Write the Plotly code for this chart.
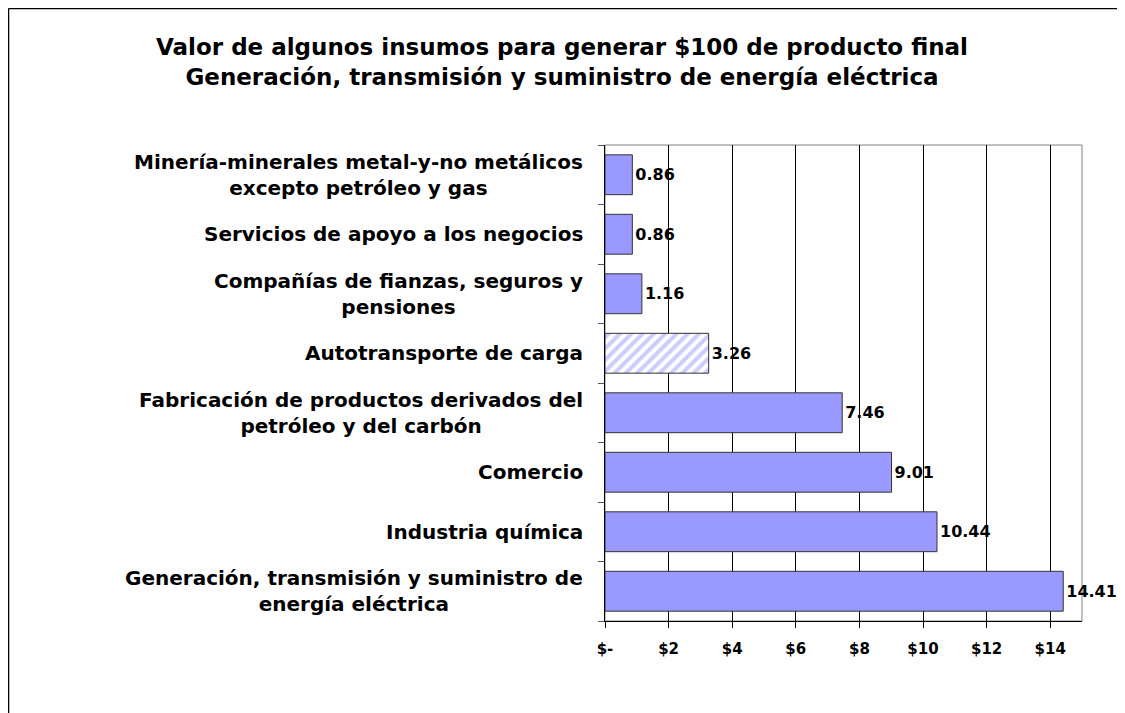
import plotly.graph_objects as go

# datos (de abajo hacia arriba)
categorias = [
    "Generación, transmisión y suministro de<br>energía eléctrica",
    "Industria química",
    "Comercio",
    "Fabricación de productos derivados del<br>petróleo y del carbón",
    "Autotransporte de carga",
    "Compañías de fianzas, seguros y<br>pensiones",
    "Servicios de apoyo a los negocios",
    "Minería-minerales metal-y-no metálicos<br>excepto petróleo y gas",
]
valores = [14.41, 10.44, 9.01, 7.46, 3.26, 1.16, 0.86, 0.86]
patrones = ["", "", "", "", "/", "", "", ""]

tick_vals = [0, 2, 4, 6, 8, 10, 12, 14]
tick_text = ["$-", "$2", "$4", "$6", "$8", "$10", "$12", "$14"]

titulo = (
    "Valor de algunos insumos para generar $100 de producto final<br>"
    "Generación, transmisión y suministro de energía eléctrica"
)

fuente = "DejaVu Sans"
azul = "#9999FF"

fig = go.Figure()

fig.add_trace(
    go.Bar(
        x=valores,
        y=categorias,
        orientation="h",
        marker=dict(
            color=azul,
            line=dict(color="#333333", width=1),
            pattern=dict(shape=patrones, fgcolor=azul, bgcolor="white", size=8, solidity=0.5),
        ),
        text=valores,
        texttemplate="%{x:.2f}",
        textposition="outside",
        textfont=dict(family=fuente, size=16, color="black", weight="bold"),
        cliponaxis=False,
        showlegend=False,
        hoverinfo="skip",
    )
)

# etiquetas de categorías centradas (como en Excel)
for cat in categorias:
    fig.add_annotation(
        x=-0.042,
        xref="paper",
        y=cat,
        yref="y",
        text=cat,
        showarrow=False,
        xanchor="right",
        align="center",
        font=dict(family=fuente, size=20, color="black", weight="bold"),
    )

# borde gris del área de trazado
fig.add_shape(
    type="rect", xref="paper", yref="paper", x0=0, x1=1, y0=0, y1=1,
    line=dict(color="#808080", width=1), layer="below",
)
# marco exterior del gráfico (solo arriba e izquierda quedan visibles)
fig.add_shape(
    type="line", xref="paper", yref="paper", x0=-1.2505, x1=1.3, y0=1.2868, y1=1.2868,
    line=dict(color="black", width=1.5),
)
fig.add_shape(
    type="line", xref="paper", yref="paper", x0=-1.2505, x1=-1.2505, y0=-0.35, y1=1.2868,
    line=dict(color="black", width=1.5),
)

fig.update_layout(
    width=1117,
    height=705,
    margin=dict(l=597, r=43, t=137, b=92),
    paper_bgcolor="white",
    plot_bgcolor="white",
    bargap=0.33,
    title=dict(
        text=titulo,
        x=0.496,
        xref="container",
        xanchor="center",
        y=0.933,
        yanchor="top",
        font=dict(family=fuente, size=23, color="black", weight="bold"),
    ),
    xaxis=dict(
        range=[0, 15],
        tickvals=tick_vals,
        ticktext=tick_text,
        showgrid=True,
        gridcolor="black",
        gridwidth=1,
        showline=True,
        linecolor="black",
        linewidth=1,
        ticks="outside",
        ticklen=6,
        tickcolor="black",
        ticklabelstandoff=8,
        zeroline=False,
        tickfont=dict(family=fuente, size=15, color="black", weight="bold"),
    ),
    yaxis=dict(
        type="category",
        showticklabels=False,
        tickson="boundaries",
        ticks="outside",
        ticklen=6,
        tickcolor="#555555",
        showgrid=False,
        showline=True,
        linecolor="black",
        linewidth=1,
        zeroline=False,
    ),
)

fig.write_html("out.html")
